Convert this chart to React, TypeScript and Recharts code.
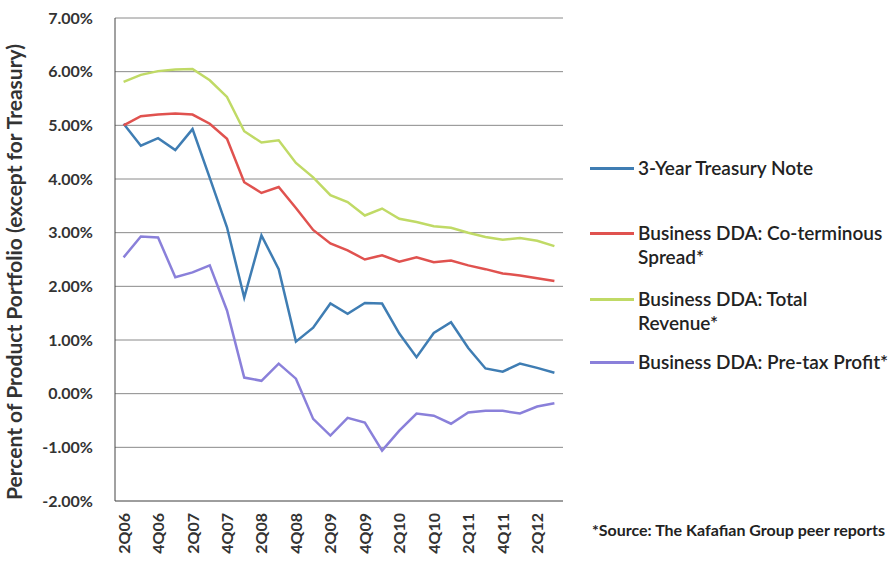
import { LineChart, Line, XAxis, YAxis, CartesianGrid } from 'recharts';

const QUARTERS = [
  '2Q06', '3Q06', '4Q06', '1Q07', '2Q07', '3Q07', '4Q07', '1Q08', '2Q08', '3Q08',
  '4Q08', '1Q09', '2Q09', '3Q09', '4Q09', '1Q10', '2Q10', '3Q10', '4Q10', '1Q11',
  '2Q11', '3Q11', '4Q11', '1Q12', '2Q12', '3Q12',
];
const TREASURY = [
  5.03, 4.62, 4.76, 4.54, 4.93, 4.02, 3.1, 1.79, 2.95, 2.32,
  0.97, 1.23, 1.68, 1.49, 1.69, 1.68, 1.12, 0.68, 1.13, 1.33,
  0.85, 0.47, 0.41, 0.56, 0.48, 0.39,
];
const SPREAD = [
  5.0, 5.17, 5.2, 5.22, 5.2, 5.03, 4.75, 3.94, 3.74, 3.85,
  3.46, 3.05, 2.8, 2.67, 2.5, 2.58, 2.46, 2.54, 2.45, 2.48,
  2.39, 2.32, 2.24, 2.2, 2.15, 2.1,
];
const REVENUE = [
  5.81, 5.94, 6.01, 6.04, 6.05, 5.84, 5.53, 4.89, 4.68, 4.72,
  4.3, 4.03, 3.7, 3.57, 3.32, 3.45, 3.26, 3.2, 3.12, 3.09,
  3.0, 2.92, 2.87, 2.9, 2.85, 2.75,
];
const PROFIT = [
  2.54, 2.93, 2.91, 2.17, 2.26, 2.39, 1.55, 0.3, 0.24, 0.56,
  0.28, -0.47, -0.78, -0.45, -0.54, -1.06, -0.69, -0.37, -0.41, -0.56,
  -0.35, -0.32, -0.32, -0.37, -0.24, -0.18,
];
const Y_TICKS = [-2, -1, 0, 1, 2, 3, 4, 5, 6, 7];

const SERIES = [
  { key: 'treasury', lines: ['3-Year Treasury Note'], color: '#3f7db3', top: 156 },
  { key: 'spread', lines: ['Business DDA: Co-terminous', 'Spread*'], color: '#e0524f', top: 221 },
  { key: 'revenue', lines: ['Business DDA: Total', 'Revenue*'], color: '#c0da66', top: 287 },
  { key: 'profit', lines: ['Business DDA: Pre-tax Profit*'], color: '#8a80da', top: 350 },
];

const data = QUARTERS.map((q, i) => ({
  q,
  treasury: TREASURY[i],
  spread: SPREAD[i],
  revenue: REVENUE[i],
  profit: PROFIT[i],
}));

const FONT = 'Lato, "DejaVu Sans", sans-serif';

function XTick({ x, y, payload }: any) {
  return (
    <text
      transform={`translate(${x + 6},${y}) rotate(-90)`}
      textAnchor="end"
      fontFamily={FONT}
      fontWeight={700}
      fontSize={16}
      fill="#333"
    >
      {payload.value}
    </text>
  );
}

function YTitle() {
  return (
    <text
      transform="translate(22,272) rotate(-90)"
      textAnchor="middle"
      fontFamily={FONT}
      fontWeight={700}
      fontSize={21}
      fill="#333"
    >
      Percent of Product Portfolio (except for Treasury)
    </text>
  );
}

export default function App() {
  return (
    <div style={{ position: 'absolute', left: 0, top: 0, width: 890, height: 563, background: '#fff' }}>
      <LineChart width={890} height={563} data={data} margin={{ top: 18, right: 327, bottom: 0, left: 0 }}>
        <CartesianGrid vertical={false} stroke="#8a8a8a" />
        <XAxis
          dataKey="q"
          interval={1}
          height={62}
          padding={{ left: 8.6, right: 8.6 }}
          axisLine={{ stroke: '#777' }}
          tickLine={false}
          tickSize={0}
          tickMargin={12}
          tick={<XTick />}
        />
        <YAxis
          width={115}
          domain={[-2, 7]}
          ticks={Y_TICKS}
          tickFormatter={(v: number) => v.toFixed(2) + '%'}
          axisLine={{ stroke: '#444' }}
          tickLine={false}
          tickSize={0}
          tickMargin={22}
          tick={{ fontFamily: FONT, fontWeight: 700, fontSize: 16, fill: '#333' }}
          label={<YTitle />}
        />
        {SERIES.map((s) => (
          <Line
            key={s.key}
            dataKey={s.key}
            stroke={s.color}
            strokeWidth={2.5}
            dot={false}
            type="linear"
            isAnimationActive={false}
          />
        ))}
      </LineChart>
      {SERIES.map((s) => (
        <div
          key={s.key}
          style={{
            position: 'absolute',
            left: 590,
            top: s.top,
            fontFamily: FONT,
            fontWeight: 600,
            fontSize: 19,
            lineHeight: '24px',
            color: '#222',
            display: 'flex',
            alignItems: 'flex-start',
            whiteSpace: 'nowrap',
          }}
        >
          <div style={{ width: 44, height: 3, background: s.color, marginTop: 11, marginRight: 4 }} />
          <div>
            {s.lines.map((l) => (
              <div key={l}>{l}</div>
            ))}
          </div>
        </div>
      ))}
      <div
        style={{
          position: 'absolute',
          left: 592,
          top: 520,
          fontFamily: FONT,
          fontWeight: 700,
          fontSize: 16,
          color: '#222',
          whiteSpace: 'nowrap',
        }}
      >
        *Source: The Kafafian Group peer reports
      </div>
    </div>
  );
}
